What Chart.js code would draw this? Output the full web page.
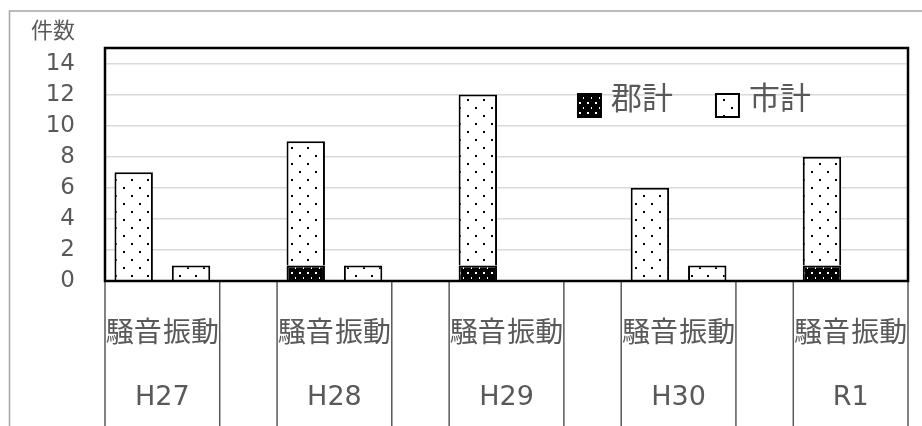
<!DOCTYPE html>
<html>
<head>
<meta charset="utf-8">
<script src="https://cdn.jsdelivr.net/npm/chart.js@4.4.1/dist/chart.umd.min.js"></script>
<style>
  html, body { margin: 0; padding: 0; background: #fff; }
</style>
</head>
<body>
<canvas id="chart" width="922" height="426"></canvas>
<script>
// datos
const years = ['H27', 'H28', 'H29', 'H30', 'R1'];
const kinds = ['騒音', '振動'];
const seriesNames = ['郡計', '市計'];
const gunSouon = [0, 1, 1, 0, 1];
const gunShindo = [0, 0, 0, 0, 0];
const shiSouon = [7, 8, 11, 6, 7];
const shiShindo = [1, 1, 0, 1, 0];
const yTicks = [0, 2, 4, 6, 8, 10, 12, 14];
const yMax = 15;
const yTitle = '件数';

const FONT = '"DejaVu Sans", "Noto Sans CJK JP", sans-serif';
const TEXT = '#595959';

// 14 categorias: 騒音, 振動 y un hueco vacío entre años
const labels = [];
const gunData = [];
const shiData = [];
years.forEach(function(y, i) {
  if (i > 0) { labels.push(''); gunData.push(null); shiData.push(null); }
  labels.push(kinds[0], kinds[1]);
  gunData.push(gunSouon[i], gunShindo[i]);
  shiData.push(shiSouon[i], shiShindo[i]);
});

const canvas = document.getElementById('chart');
const ctx0 = canvas.getContext('2d');

function dotPattern(bg, fg, w, h, dots) {
  const c = document.createElement('canvas');
  c.width = w; c.height = h;
  const g = c.getContext('2d');
  g.fillStyle = bg; g.fillRect(0, 0, w, h);
  g.fillStyle = fg;
  dots.forEach(function(d) { g.fillRect(d[0], d[1], 2, 2); });
  return ctx0.createPattern(c, 'repeat');
}
const gunFill = dotPattern('#000', '#fff', 8, 10, [[3, 2], [7, 7]]);
const shiFill = dotPattern('#fff', '#000', 16, 16, [[3, 3], [11, 11]]);
const fills = [gunFill, shiFill];

const decorPlugin = {
  id: 'decor',
  beforeDraw(chart) {
    const ctx = chart.ctx;
    const ca = chart.chartArea;
    ctx.save();
    ctx.strokeStyle = '#a6a6a6';
    ctx.lineWidth = 1.5;
    ctx.beginPath();
    ctx.moveTo(9.5, chart.height);
    ctx.lineTo(9.5, 11);
    ctx.lineTo(chart.width, 11);
    ctx.stroke();
    ctx.fillStyle = TEXT;
    ctx.font = '22px ' + FONT;
    ctx.textAlign = 'right';
    ctx.textBaseline = 'middle';
    ctx.fillText(yTitle, ca.left - 30, 32);
    ctx.restore();
  },
  afterDraw(chart) {
    const ctx = chart.ctx;
    const ca = chart.chartArea;
    const sx = chart.scales.x;
    const half = (sx.getPixelForValue(1) - sx.getPixelForValue(0)) / 2;
    ctx.save();
    // separadores del eje
    ctx.strokeStyle = TEXT;
    ctx.lineWidth = 1.5;
    for (let k = 0; k <= labels.length; k++) {
      if (k % 3 === 1) continue;
      const x = k < labels.length ? sx.getPixelForValue(k) - half : sx.getPixelForValue(k - 1) + half;
      ctx.beginPath();
      ctx.moveTo(x, ca.bottom);
      ctx.lineTo(x, chart.height);
      ctx.stroke();
    }
    // años
    ctx.fillStyle = TEXT;
    ctx.font = '27px ' + FONT;
    ctx.textAlign = 'center';
    ctx.textBaseline = 'middle';
    years.forEach(function(y, i) {
      const x = (sx.getPixelForValue(i * 3) + sx.getPixelForValue(i * 3 + 1)) / 2;
      ctx.fillText(y, x, ca.bottom + 117);
    });
    // borde del área
    ctx.strokeStyle = '#000';
    ctx.lineWidth = 2.5;
    ctx.strokeRect(ca.left, ca.top, ca.right - ca.left, ca.bottom - ca.top);
    // leyenda
    ctx.font = '31px ' + FONT;
    ctx.textAlign = 'left';
    let lx = ca.left + (ca.right - ca.left) * 0.589;
    const ly = ca.top + 46;
    seriesNames.forEach(function(name, i) {
      ctx.fillStyle = fills[i];
      ctx.fillRect(lx, ly, 23, 23);
      ctx.strokeStyle = '#000';
      ctx.lineWidth = 2;
      ctx.strokeRect(lx, ly, 23, 23);
      ctx.fillStyle = TEXT;
      ctx.fillText(name, lx + 33, ly + 7);
      lx += 33 + ctx.measureText(name).width + 43;
    });
    ctx.restore();
  }
};

const chart = new Chart(canvas, {
  type: 'bar',
  data: {
    labels: labels,
    datasets: [{
      label: seriesNames[0],
      data: gunData,
      backgroundColor: gunFill,
      borderColor: '#000',
      borderWidth: 2
    }, {
      label: seriesNames[1],
      data: shiData,
      backgroundColor: shiFill,
      borderColor: '#000',
      borderWidth: 2
    }]
  },
  options: {
    responsive: false,
    animation: false,
    layout: { padding: { top: 48, right: 14, left: 0, bottom: 0 } },
    datasets: { bar: { categoryPercentage: 1, barPercentage: 0.67 } },
    plugins: {
      legend: { display: false },
      tooltip: { enabled: false }
    },
    scales: {
      x: {
        stacked: true,
        grid: { display: false },
        border: { display: false },
        afterFit: function(scale) {
          scale.height = 145;
          scale.paddingLeft = 0;
          scale.paddingRight = 0;
        },
        ticks: {
          autoSkip: false,
          maxRotation: 0,
          padding: 29,
          color: TEXT,
          font: { family: FONT, size: 28 }
        }
      },
      y: {
        stacked: true,
        min: 0,
        max: yMax,
        afterFit: function(scale) { scale.width = 105; },
        afterBuildTicks: function(scale) {
          scale.ticks = yTicks.map(function(v) { return { value: v }; });
        },
        grid: { color: '#d9d9d9', lineWidth: 1.5, drawTicks: false },
        border: { display: false },
        ticks: {
          padding: 30,
          color: TEXT,
          font: { family: FONT, size: 23 }
        }
      }
    }
  },
  plugins: [decorPlugin]
});
</script>
</body>
</html>
